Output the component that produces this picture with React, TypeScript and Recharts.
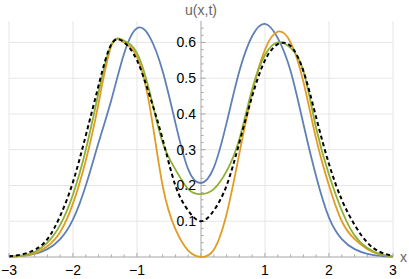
import React from "react";
import { CartesianGrid, Line, LineChart, ReferenceLine, XAxis, YAxis } from "recharts";

const xValues = [
  -3.0, -2.8, -2.6, -2.4, -2.2, -2.0, -1.8, -1.6, -1.4, -1.2, -1.0, -0.8, -0.6, -0.4, -0.2, 0.0,
  0.2, 0.4, 0.6, 0.8, 1.0, 1.2, 1.4, 1.6, 1.8, 2.0, 2.2, 2.4, 2.6, 2.8, 3.0,
];

const blueValues = [
  0.001, 0.003, 0.009, 0.022, 0.05, 0.105, 0.2, 0.32, 0.44, 0.57, 0.64, 0.615, 0.52, 0.375, 0.245, 0.207,
  0.25, 0.375, 0.52, 0.618, 0.652, 0.612, 0.52, 0.372, 0.225, 0.11, 0.05, 0.022, 0.009, 0.003, 0.001,
];

const orangeValues = [
  0.0, 0.003, 0.01, 0.03, 0.07, 0.15, 0.27, 0.43, 0.59, 0.6, 0.56, 0.42, 0.2, 0.078, 0.018, 0.0,
  0.02, 0.12, 0.29, 0.46, 0.58, 0.63, 0.6, 0.49, 0.33, 0.2, 0.1, 0.05, 0.022, 0.007, 0.001,
];

const greenValues = [
  0.001, 0.004, 0.014, 0.04, 0.09, 0.175, 0.3, 0.46, 0.595, 0.605, 0.57, 0.46, 0.32, 0.245, 0.19, 0.176,
  0.19, 0.24, 0.33, 0.47, 0.565, 0.6, 0.585, 0.52, 0.36, 0.23, 0.13, 0.06, 0.025, 0.008, 0.002,
];

const dashedValues = [
  0.002, 0.007, 0.02, 0.05, 0.115, 0.21, 0.34, 0.48, 0.595, 0.6, 0.55, 0.45, 0.33, 0.2, 0.13, 0.1,
  0.13, 0.2, 0.32, 0.45, 0.55, 0.595, 0.59, 0.52, 0.39, 0.26, 0.16, 0.09, 0.04, 0.014, 0.003,
];

const xGridLines = [-3, -2, -1, 1, 2, 3];
const xTicks = Array.from({ length: 31 }, (_, i) => Math.round((-3 + i * 0.2) * 10) / 10);
const yMajorTicks = [0.1, 0.2, 0.3, 0.4, 0.5, 0.6];
const yMinorTicks = Array.from({ length: 32 }, (_, i) => Math.round((i + 1) * 2) / 100).filter(
  (v) => Math.abs(v * 10 - Math.round(v * 10)) > 1e-6
);

const data = xValues.map((x, i) => ({
  x,
  blue: blueValues[i],
  orange: orangeValues[i],
  green: greenValues[i],
  dashed: dashedValues[i],
}));

const axisGray = "#a6a6a6";
const font = '"Liberation Sans", Arial, sans-serif';

const XTick = (props: any) => {
  const { x, y, payload } = props;
  const v = payload.value as number;
  const major = Math.abs(v - Math.round(v)) < 1e-6;
  return (
    <g>
      <line x1={x} x2={x} y1={y} y2={y - (major ? 4 : 2.5)} stroke={axisGray} />
      {major && v !== 0 ? (
        <text x={x} y={y + 18} textAnchor="middle" fontSize={14} fill="#000" fontFamily={font}>
          {v < 0 ? `\u2212${-v}` : `${v}`}
        </text>
      ) : null}
    </g>
  );
};

export default function App() {
  return (
    <div style={{ position: "absolute", left: 0, top: 0, width: 409, height: 279, background: "#fff" }}>
      <LineChart
        width={409}
        height={279}
        data={data}
        margin={{ top: 21, right: 16, bottom: 0, left: 9 }}
        style={{ fontFamily: font }}
      >
        <CartesianGrid stroke="#e6e6e6" horizontalValues={yMajorTicks} verticalValues={xGridLines} />
        <XAxis
          dataKey="x"
          type="number"
          domain={[-3, 3]}
          ticks={xTicks}
          interval={0}
          height={22}
          axisLine={false}
          tickLine={false}
          tickSize={0}
          tickMargin={0}
          tick={XTick}
        />
        <YAxis type="number" domain={[0, 0.66]} ticks={yMajorTicks} hide />
        <ReferenceLine
          x={0}
          stroke={axisGray}
          label={{ value: "u(x,t)", position: "top", offset: 6, fill: "#666", fontSize: 14 }}
        />
        <ReferenceLine
          y={0}
          stroke={axisGray}
          label={{ value: "x", position: "right", offset: 7, fill: "#666", fontSize: 14 }}
        />
        {yMinorTicks.map((v) => (
          <ReferenceLine key={`m${v}`} segment={[{ x: 0, y: v }, { x: 0.04, y: v }]} stroke={axisGray} />
        ))}
        {yMajorTicks.map((v) => (
          <ReferenceLine
            key={`M${v}`}
            segment={[{ x: 0, y: v }, { x: 0.07, y: v }]}
            stroke={axisGray}
            label={{ value: v.toFixed(1), position: "left", offset: 5, fill: "#000", fontSize: 14 }}
          />
        ))}
        <Line type="natural" dataKey="blue" stroke="#5E81B5" strokeWidth={1.8} dot={false} isAnimationActive={false} />
        <Line type="natural" dataKey="orange" stroke="#E19C24" strokeWidth={1.8} dot={false} isAnimationActive={false} />
        <Line type="natural" dataKey="green" stroke="#8FB032" strokeWidth={1.8} dot={false} isAnimationActive={false} />
        <Line
          type="natural"
          dataKey="dashed"
          stroke="#000"
          strokeWidth={2}
          strokeDasharray="4 3"
          dot={false}
          isAnimationActive={false}
        />
      </LineChart>
    </div>
  );
}
